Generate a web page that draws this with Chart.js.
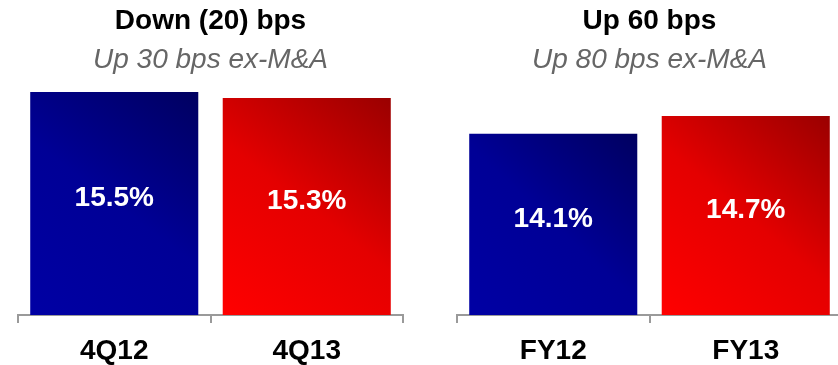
<!DOCTYPE html>
<html lang="en">
<head>
    <meta charset="UTF-8">
    <title>Margin</title>
    <script src="https://cdn.jsdelivr.net/npm/chart.js"></script>
    <style>
        body {
            margin: 0;
            width: 838px;
            height: 365px;
            overflow: hidden;
            background: #fff;
            position: relative;
        }
        .panel {
            position: absolute;
            top: 0;
            width: 420px;
            height: 379px;
        }
        #leftBox { left: 0; }
        #rightBox { left: 439px; }
    </style>
</head>
<body>
    <div class="panel" id="leftBox"><canvas id="leftChart"></canvas></div>
    <div class="panel" id="rightBox"><canvas id="rightChart"></canvas></div>

    <script>
        // quarter panel
        const quarterLabels = ['4Q12', '4Q13'];
        const quarterValues = [15.5, 15.3];
        const quarterTitle = 'Down (20) bps';
        const quarterSubtitle = 'Up 30 bps ex-M&A';

        // full year panel
        const yearLabels = ['FY12', 'FY13'];
        const yearValues = [14.1, 14.7];
        const yearTitle = 'Up 60 bps';
        const yearSubtitle = 'Up 80 bps ex-M&A';

        const FONT = 'Arial, "Liberation Sans", sans-serif';
        // bottom-left -> middle -> top-right
        const gradStops = [
            ['#0000a4', '#000096', '#000060'],  // blue
            ['#ff0000', '#e40000', '#9a0000']   // red
        ];

        function barGradient(context) {
            const chart = context.chart;
            const i = context.dataIndex;
            const stops = gradStops[i % 2];
            if (!chart.chartArea) return stops[1];
            const xs = chart.scales.x, ys = chart.scales.y;
            const cx = xs.getPixelForValue(i);
            const half = 84;
            const top = ys.getPixelForValue(context.raw);
            const bottom = ys.getPixelForValue(ys.min);
            const g = chart.ctx.createLinearGradient(cx - half, bottom, cx + half, top);
            g.addColorStop(0, stops[0]);
            g.addColorStop(0.5, stops[1]);
            g.addColorStop(1, stops[2]);
            return g;
        }

        // white value labels in the middle of the visible part of each bar
        const valueLabels = {
            id: 'valueLabels',
            afterDatasetsDraw(chart) {
                const ctx = chart.ctx;
                const meta = chart.getDatasetMeta(0);
                const data = chart.data.datasets[0].data;
                const bottom = chart.chartArea.bottom;
                ctx.save();
                ctx.fillStyle = '#fff';
                ctx.font = 'bold 28px ' + FONT;
                ctx.textAlign = 'center';
                ctx.textBaseline = 'middle';
                meta.data.forEach((bar, i) => {
                    const base = Math.min(bar.base, bottom);
                    ctx.fillText(data[i].toFixed(1) + '%', bar.x, (bar.y + base) / 2 - 5);
                });
                ctx.restore();
            }
        };

        function makeChart(id, labels, values, title, subtitle) {
            return new Chart(document.getElementById(id), {
                type: 'bar',
                data: {
                    labels: labels,
                    datasets: [{
                        data: values,
                        backgroundColor: barGradient,
                        borderWidth: 0,
                        barPercentage: 0.873,
                        categoryPercentage: 1
                    }]
                },
                options: {
                    responsive: true,
                    maintainAspectRatio: false,
                    animation: false,
                    layout: { padding: { left: 18, right: 17 } },
                    plugins: {
                        legend: { display: false },
                        tooltip: { enabled: false },
                        title: {
                            display: true,
                            text: title,
                            color: '#000',
                            font: { family: FONT, size: 28, weight: 'bold' },
                            padding: { top: 4, bottom: 4 }
                        },
                        subtitle: {
                            display: true,
                            text: subtitle,
                            color: '#666',
                            font: { family: FONT, size: 28, style: 'italic' },
                            padding: { top: 2, bottom: 6 }
                        }
                    },
                    scales: {
                        x: {
                            grid: {
                                drawOnChartArea: false,
                                drawTicks: true,
                                tickLength: 8,
                                color: '#9a9a9a',
                                lineWidth: 2
                            },
                            border: { color: '#9a9a9a', width: 2 },
                            ticks: {
                                color: '#000',
                                padding: 14,
                                font: { family: FONT, size: 28, weight: 'bold', lineHeight: 1 }
                            }
                        },
                        y: {
                            display: false,
                            min: 8,
                            max: 15.8
                        }
                    }
                },
                plugins: [valueLabels]
            });
        }

        makeChart('leftChart', quarterLabels, quarterValues, quarterTitle, quarterSubtitle);
        makeChart('rightChart', yearLabels, yearValues, yearTitle, yearSubtitle);
    </script>
</body>
</html>
